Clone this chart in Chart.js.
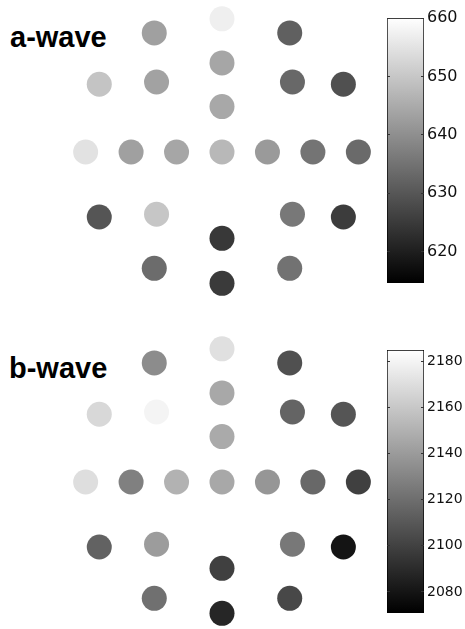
<!DOCTYPE html>
<html>
<head>
<meta charset="utf-8">
<script src="https://cdn.jsdelivr.net/npm/chart.js@4"></script>
<style>
  html, body { margin: 0; padding: 0; background: #fff; }
  body { width: 465px; height: 629px; position: relative; overflow: hidden; }
  canvas { position: absolute; }
  .title { position: absolute; font: bold 29px "Liberation Sans", Arial, sans-serif; line-height: 29px; color: #000; }
</style>
</head>
<body>
<div class="title" style="left:10px;top:23px">a-wave</div>
<canvas id="aDots" width="400" height="310" style="left:22px;top:-3px"></canvas>
<canvas id="aBar" width="78" height="305" style="left:387px;top:-2px"></canvas>

<div class="title" style="left:9px;top:354px">b-wave</div>
<canvas id="bDots" width="400" height="310" style="left:22px;top:327px"></canvas>
<canvas id="bBar" width="78" height="303" style="left:387px;top:330px"></canvas>

<script>
// electrode positions, same layout for both waves
const posX = [-1.49, 0, 1.49, 0, -2.70, -1.44, 1.55, 2.67, 0,
              -3, -2, -1, 0, 1, 2, 3,
              -2.70, -1.44, 1.55, 2.67, 0, -1.49, 1.49, 0];
const posY = [2.62, 2.93, 2.62, 1.96, 1.49, 1.54, 1.54, 1.49, 1.00,
              0, 0, 0, 0, 0, 0, 0,
              -1.43, -1.37, -1.37, -1.43, -1.90, -2.56, -2.56, -2.89];

const aWave = [643.1, 657.2, 631.7, 644.2, 649.5, 643.5, 633.2, 628.9, 644.5,
               654.8, 643.1, 644.2, 647.4, 642.0, 635.3, 633.5,
               629.8, 649.9, 636.0, 625.3, 624.6, 633.9, 634.9, 625.0];
const bWave = [2133.4, 2171.0, 2106.6, 2145.9, 2167.4, 2179.9, 2115.6, 2108.9, 2146.8,
               2170.1, 2128.1, 2150.4, 2145.9, 2137.9, 2117.4, 2099.5,
               2114.7, 2140.6, 2124.5, 2079.8, 2099.5, 2120.9, 2103.1, 2087.9];

// colour limits and colorbar ticks
const aLimits = [614.65, 660];
const bLimits = [2070.9, 2184.8];
const aTicks = [620, 630, 640, 650, 660];
const bTicks = [2080, 2100, 2120, 2140, 2160, 2180];

function grayFor(v, lim) {
    const t = Math.min(1, Math.max(0, (v - lim[0]) / (lim[1] - lim[0])));
    const g = Math.round(t * 255);
    return `rgb(${g},${g},${g})`;
}

function drawDots(id, values, lim) {
    new Chart(document.getElementById(id), {
        type: 'scatter',
        data: {
            datasets: [{
                data: values.map((v, i) => ({ x: posX[i], y: posY[i] })),
                pointRadius: 12.5,
                pointHoverRadius: 12.5,
                pointBorderWidth: 0,
                pointBackgroundColor: values.map(v => grayFor(v, lim))
            }]
        },
        options: {
            responsive: false,
            animation: false,
            events: [],
            layout: { padding: 0, autoPadding: false },
            plugins: { legend: { display: false }, tooltip: { enabled: false } },
            scales: {
                x: { display: false, min: -4.4, max: 4.4 },
                y: { display: false, min: -3.41, max: 3.41 }
            }
        }
    });
}

function drawColorbar(id, lim, ticks, fontSize) {
    new Chart(document.getElementById(id), {
        type: 'bar',
        data: {
            labels: [''],
            datasets: [{
                data: [lim],
                backgroundColor: (c) => {
                    const { ctx, chartArea } = c.chart;
                    if (!chartArea) return '#888';
                    const g = ctx.createLinearGradient(0, chartArea.bottom, 0, chartArea.top);
                    g.addColorStop(0, '#000');
                    g.addColorStop(1, '#fff');
                    return g;
                },
                borderColor: '#000',
                borderWidth: 1,
                borderSkipped: false,
                categoryPercentage: 1,
                barPercentage: 1
            }]
        },
        options: {
            responsive: false,
            animation: false,
            events: [],
            layout: { padding: { top: 20, bottom: 20, left: 0, right: 0 } },
            plugins: { legend: { display: false }, tooltip: { enabled: false } },
            scales: {
                x: { display: false },
                y: {
                    position: 'right',
                    min: lim[0],
                    max: lim[1],
                    afterBuildTicks: (s) => { s.ticks = ticks.map(v => ({ value: v })); },
                    afterFit: (s) => { s.width = 41; },
                    grid: { drawTicks: false, color: '#333', z: 1 },
                    border: { display: false, dash: [3, 31] },
                    ticks: {
                        padding: 3,
                        color: '#111',
                        font: { family: 'DejaVu Sans', size: fontSize },
                        callback: (v) => String(v)
                    }
                }
            }
        }
    });
}

drawDots('aDots', aWave, aLimits);
drawColorbar('aBar', aLimits, aTicks, 16);
drawDots('bDots', bWave, bLimits);
drawColorbar('bBar', bLimits, bTicks, 14);
</script>
</body>
</html>
